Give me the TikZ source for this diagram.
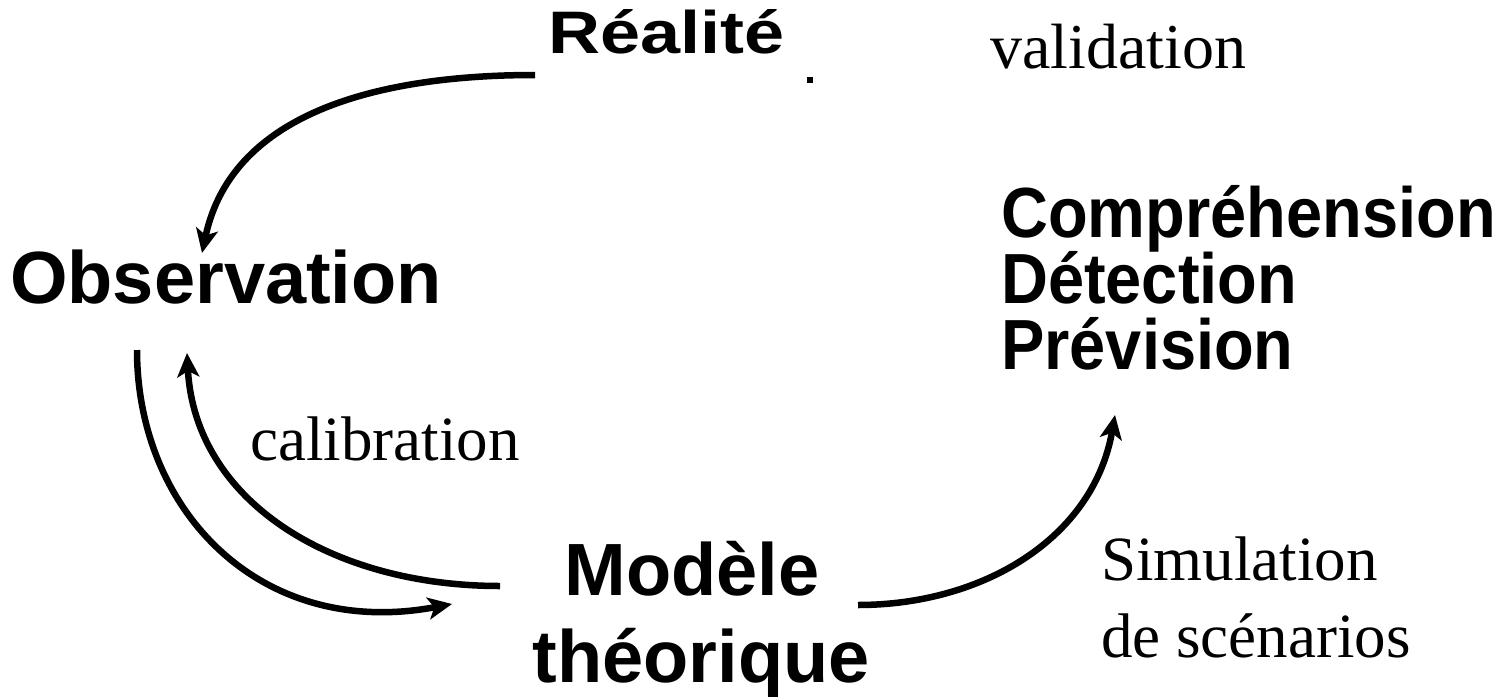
\documentclass[tikz,border=0pt]{standalone}
\usepackage{fontspec}
\setmainfont{Liberation Serif}
\setsansfont{Liberation Sans}
\newfontfamily\widesans[FakeStretch=1.2]{Liberation Sans}
\newfontfamily\narrowsans[FakeStretch=0.915]{Liberation Sans}
\usetikzlibrary{arrows.meta}
\tikzset{
  concept/.style={inner sep=0pt,font=\fontsize{74}{80}\selectfont\sffamily\bfseries},
  goal/.style={inner sep=0pt,anchor=base west,font=\fontsize{71}{66}\selectfont\narrowsans\bfseries},
  lbl/.style={inner sep=0pt,anchor=base west,font=\fontsize{63}{70}\selectfont\rmfamily},
  link/.style={line width=6.5pt,->}
}
\begin{document}
\begin{tikzpicture}[x=1pt,y=1pt,>={Stealth[length=24pt,width=22pt,inset=6pt]}]
\useasboundingbox(0,0)rectangle(1506,-696);
\node[concept,anchor=base west,font=\fontsize{60}{64}\selectfont\widesans\bfseries](real)at(548,-53){Réalité};
\node[concept,anchor=base west](obs)at(10,-303){Observation};
\node[goal](comp)at(1001,-237){Compréhension};
\node[goal](detect)at(1001,-303){Détection};
\node[goal](prev)at(1001,-369){Prévision};
\node[concept,anchor=base](model)at(692,-595){Modèle};
\node[concept,anchor=base](theo)at(701,-682){théorique};
\node[lbl,font=\fontsize{64}{70}\selectfont\rmfamily](valid)at(990,-68){validation};
\node[lbl](calib)at(250,-460){calibration};
\node[lbl](sim)at(1101,-580){Simulation};
\node[lbl](scen)at(1101,-657){de scénarios};
% connector ends
\coordinate(r1)at(535,-75);
\coordinate(o1)at(202,-253);
\coordinate(o2)at(137,-350);
\coordinate(o3)at(187,-353);
\coordinate(m1)at(452,-604);
\coordinate(m2)at(500,-586);
\coordinate(m3)at(858,-605);
\coordinate(p1)at(1115,-415);
\draw[link](r1)to[out=180,in=78](o1);
\draw[link](o2).. controls(137,-510)and(260,-640)..(m1);
\draw[link](m2).. controls(330,-586)and(195,-500)..(o3);
\draw[link](m3)to[out=0,in=-100](p1);
\fill(807,-77)rectangle(813,-83);
\end{tikzpicture}
\end{document}
